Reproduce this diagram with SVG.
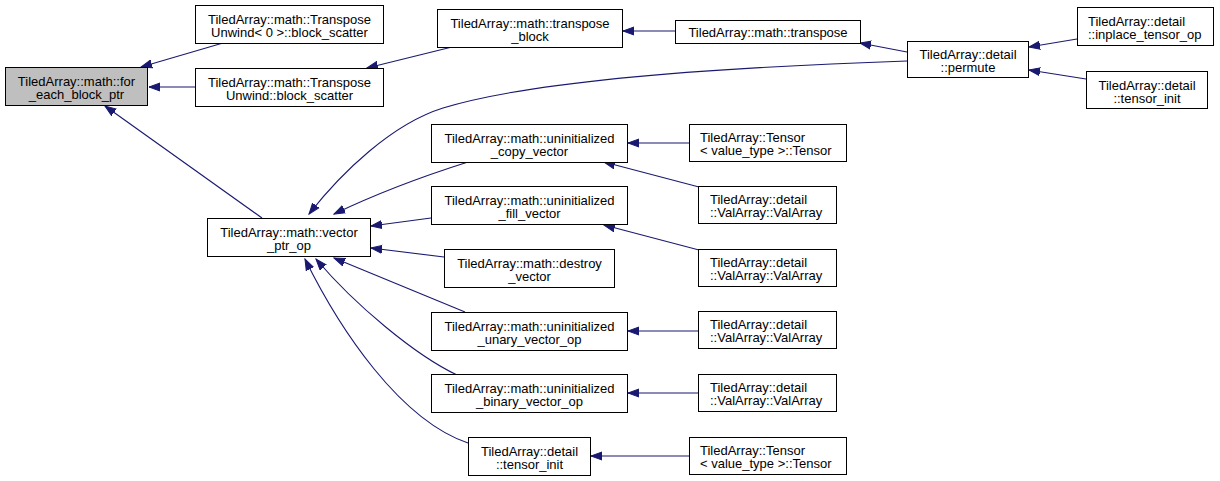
<svg xmlns="http://www.w3.org/2000/svg" width="1220" height="481" viewBox="0 0 1220 481">
<style>
.n rect{fill:#fff;stroke:#000;stroke-width:1}
.n.root rect{fill:#bfbfbf}
.n text{font-family:"Liberation Sans",Arial,sans-serif;font-size:13px;fill:#000;text-anchor:middle}
.n text.l{text-anchor:start}
#edges path{fill:none;stroke:#191970;stroke-width:1.1;marker-end:url(#ah)}
</style>
<defs>
<marker id="ah" markerUnits="userSpaceOnUse" markerWidth="12" markerHeight="10" viewBox="0 -5 12 10" refX="11" refY="0" orient="auto">
<path d="M0,-4 L11,0 L0,4 z" fill="#191970" stroke="#191970" stroke-width="1"/>
</marker>
</defs>
<rect width="1220" height="481" fill="#fff"/>
<g id="edges">
<path d="M223,43 L141,67"/>
<path d="M195,87 L149,87"/>
<path d="M262,218 L105,106"/>
<path d="M452,47 L367,68"/>
<path d="M675,31 L623,31"/>
<path d="M907,52 L860,43"/>
<path d="M1077,39 L1029,47"/>
<path d="M1086,79 L1029,70"/>
<path d="M907,61 C760,66 540,78 443,108 C392,124 342,172 309,214"/>
<path d="M468,162 C430,174 380,192 334,214"/>
<path d="M431,218 L371,226"/>
<path d="M444,257 L371,248"/>
<path d="M465,312 L334,258"/>
<path d="M457,375 C415,355 355,305 316,259"/>
<path d="M468,443 C400,420 340,330 305,259"/>
<path d="M689,143 L628,143"/>
<path d="M699,187 L604,162"/>
<path d="M699,250 L604,225"/>
<path d="M698,331 L628,331"/>
<path d="M698,393 L628,393"/>
<path d="M689,456 L591,456"/>
</g>
<g id="nA" class="n root"><rect x="5.5" y="67.5" width="142" height="38"/><text x="76.5" y="85.5">TiledArray::math::for</text><text x="76.5" y="98.5">_each_block_ptr</text></g>
<g id="nB" class="n"><rect x="195.5" y="5.5" width="188" height="38"/><text x="289.5" y="23.5">TiledArray::math::Transpose</text><text x="289.5" y="36.5">Unwind&lt; 0 &gt;::block_scatter</text></g>
<g id="nC" class="n"><rect x="195.5" y="68.5" width="188" height="38"/><text x="289.5" y="86.5">TiledArray::math::Transpose</text><text x="289.5" y="99.5">Unwind::block_scatter</text></g>
<g id="nD" class="n"><rect x="437.5" y="9.5" width="185" height="38"/><text x="530" y="27.5">TiledArray::math::transpose</text><text x="530" y="40.5">_block</text></g>
<g id="nE" class="n"><rect x="675.5" y="20.5" width="185" height="23"/><text x="768" y="36.5">TiledArray::math::transpose</text></g>
<g id="nF" class="n"><rect x="907.5" y="41.5" width="121" height="36"/><text x="968" y="58.5">TiledArray::detail</text><text x="968" y="71.5">::permute</text></g>
<g id="nG" class="n"><rect x="1077.5" y="7.5" width="136" height="38"/><text class="l" x="1088" y="25.5">TiledArray::detail</text><text class="l" x="1088" y="38.5">::inplace_tensor_op</text></g>
<g id="nH" class="n"><rect x="1086.5" y="71.5" width="121" height="37"/><text x="1147" y="89.5">TiledArray::detail</text><text x="1147" y="102.5">::tensor_init</text></g>
<g id="nI" class="n"><rect x="207.5" y="218.5" width="163" height="38"/><text x="289" y="236.5">TiledArray::math::vector</text><text x="289" y="249.5">_ptr_op</text></g>
<g id="nJ" class="n"><rect x="431.5" y="124.5" width="196" height="38"/><text x="529.5" y="142.5">TiledArray::math::uninitialized</text><text x="529.5" y="155.5">_copy_vector</text></g>
<g id="nK" class="n"><rect x="431.5" y="186.5" width="196" height="38"/><text x="529.5" y="204.5">TiledArray::math::uninitialized</text><text x="529.5" y="217.5">_fill_vector</text></g>
<g id="nL" class="n"><rect x="444.5" y="249.5" width="170" height="38"/><text x="529.5" y="267.5">TiledArray::math::destroy</text><text x="529.5" y="280.5">_vector</text></g>
<g id="nM" class="n"><rect x="431.5" y="312.5" width="196" height="38"/><text x="529.5" y="330.5">TiledArray::math::uninitialized</text><text x="529.5" y="343.5">_unary_vector_op</text></g>
<g id="nN" class="n"><rect x="431.5" y="374.5" width="196" height="38"/><text x="529.5" y="392.5">TiledArray::math::uninitialized</text><text x="529.5" y="405.5">_binary_vector_op</text></g>
<g id="nO" class="n"><rect x="468.5" y="437.5" width="122" height="38"/><text x="529.5" y="455.5">TiledArray::detail</text><text x="529.5" y="468.5">::tensor_init</text></g>
<g id="nP" class="n"><rect x="689.5" y="124.5" width="157" height="37"/><text class="l" x="700" y="142">TiledArray::Tensor</text><text class="l" x="700" y="155">&lt; value_type &gt;::Tensor</text></g>
<g id="nQ" class="n"><rect x="698.5" y="186.5" width="138" height="37"/><text class="l" x="710" y="204">TiledArray::detail</text><text class="l" x="710" y="217">::ValArray::ValArray</text></g>
<g id="nR" class="n"><rect x="698.5" y="249.5" width="138" height="37"/><text class="l" x="710" y="267">TiledArray::detail</text><text class="l" x="710" y="280">::ValArray::ValArray</text></g>
<g id="nS" class="n"><rect x="698.5" y="311.5" width="138" height="37"/><text class="l" x="710" y="329">TiledArray::detail</text><text class="l" x="710" y="342">::ValArray::ValArray</text></g>
<g id="nT" class="n"><rect x="698.5" y="374.5" width="138" height="37"/><text class="l" x="710" y="392">TiledArray::detail</text><text class="l" x="710" y="405">::ValArray::ValArray</text></g>
<g id="nU" class="n"><rect x="689.5" y="437.5" width="157" height="37"/><text class="l" x="700" y="455">TiledArray::Tensor</text><text class="l" x="700" y="468">&lt; value_type &gt;::Tensor</text></g>
</svg>
